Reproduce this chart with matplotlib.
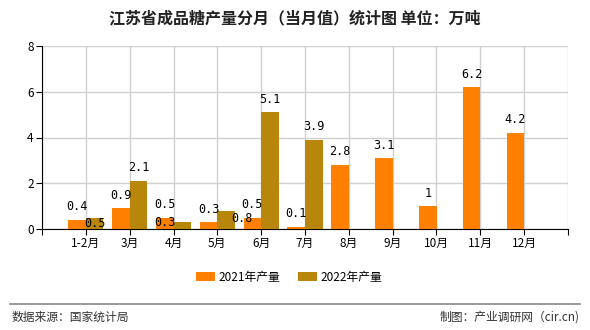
import matplotlib
matplotlib.use("Agg")
import matplotlib.pyplot as plt
import numpy as np

plt.rcParams['font.family'] = ['Noto Sans CJK SC', 'DejaVu Sans']

months = ["1-2月", "3月", "4月", "5月", "6月", "7月", "8月", "9月", "10月", "11月", "12月"]
prod_2021 = [0.4, 0.9, 0.5, 0.3, 0.5, 0.1, 2.8, 3.1, 1, 6.2, 4.2]
prod_2022 = [0.5, 2.1, 0.3, 0.8, 5.1, 3.9]
series_names = ["2021年产量", "2022年产量"]
yticks = [0, 2, 4, 6, 8]

c2021 = "#FF8000"
c2022 = "#B8860B"

# label offsets in pixels (dx, dy) relative to the bar top centre
off_2021 = [(0, 13)] * len(prod_2021)
off_2022 = [(0, 13)] * len(prod_2022)
off_2022[0] = (0, -6)
off_2022[2] = (-17, 0)
off_2022[3] = (16, -8)

fig = plt.figure(figsize=(5.9, 3.3), dpi=100)
ax = fig.add_axes([42/590, 1-229/330, 526/590, 183/330])

x = np.arange(1, len(months) + 1)
w = 0.4
b1 = ax.bar(x[:len(prod_2021)] - w/2, prod_2021, w, color=c2021, label=series_names[0], zorder=3)
b2 = ax.bar(x[:len(prod_2022)] + w/2, prod_2022, w, color=c2022, label=series_names[1], zorder=3)

mono = ['DejaVu Sans Mono']
for xi, v, (dx, dy) in zip(x - w/2, prod_2021, off_2021):
    ax.annotate(f"{v:g}", (xi, v), xytext=(dx, dy), textcoords='offset pixels',
                ha='center', va='center', fontsize=8.5, family=mono, zorder=5)
for xi, v, (dx, dy) in zip(x + w/2, prod_2022, off_2022):
    ax.annotate(f"{v:g}", (xi, v), xytext=(dx, dy), textcoords='offset pixels',
                ha='center', va='center', fontsize=8.5, family=mono, zorder=5)

ax.set_xlim(0, 12)
ax.set_ylim(0, 8)
ax.set_xticks(range(0, 13))
ax.set_xticklabels([""] + months + [""], fontsize=8.5)
ax.set_yticks(yticks)
ax.set_yticklabels([str(t) for t in yticks], fontsize=8.5)
ax.grid(True, color="#d0d0d0", linewidth=1, zorder=0)
for s in ["top", "right"]:
    ax.spines[s].set_visible(False)
ax.spines["left"].set_color("black")
ax.spines["bottom"].set_color("black")
ax.tick_params(axis='both', direction='out', length=4, color='black', pad=2)

fig.text(0.5, 1-18/330, "江苏省成品糖产量分月（当月值）统计图 单位：万吨", ha='center', va='center',
         fontsize=11.5, fontweight='bold', color='#222222')

fig.legend(handles=[b1, b2], labels=series_names, loc='center', bbox_to_anchor=(0.49, 1-277/330),
           ncol=2, frameon=False, fontsize=8.5, handlelength=1.6, handleheight=0.9,
           handletextpad=0.3, columnspacing=1.5)

fig.add_artist(plt.Line2D([10/590, 580/590], [1-304/330, 1-304/330], color='#888888', linewidth=1.2))
fig.text(12/590, 1-317/330, "数据来源：国家统计局", ha='left', va='center', fontsize=8.5, color='#333333')
fig.text(580/590, 1-317/330, "制图：产业调研网（cir.cn)", ha='right', va='center', fontsize=8.5, color='#333333')

fig.savefig("out.png", dpi=100)
